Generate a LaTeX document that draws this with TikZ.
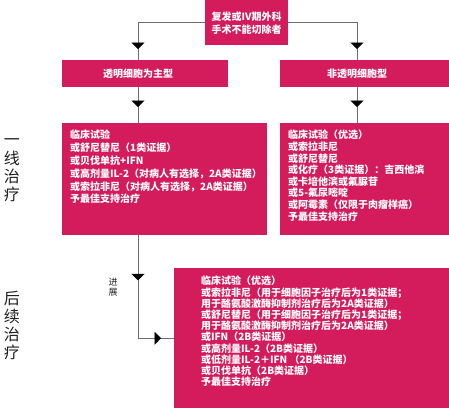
\documentclass[tikz,border=0pt]{standalone}
\usepackage{fontspec}
\setmainfont{Noto Sans CJK SC}
\usetikzlibrary{arrows.meta, calc, positioning, decorations.markings}
\definecolor{rRose}{HTML}{D41B5B}
\definecolor{rLine}{HTML}{6E6E6E}
\definecolor{rInk}{HTML}{1F1F1F}

\tikzset{
  panel/.style={fill=rRose, draw=none, inner sep=0pt, anchor=north west},
  paneltext/.style={text=white, font=\bfseries\fontsize{10}{#1}\selectfont,
                    align=left, inner sep=0pt, anchor=north west},
  sidelabel/.style={text=rInk, font=\fontsize{16}{18.3}\selectfont, align=center, inner sep=0pt},
  flow/.style={draw=rLine, line width=0.9pt},
  tipat/.style={postaction={decorate}, decoration={markings,
      mark=at position #1 with {\arrow{Triangle[width=13pt,length=6.5pt,color=black]}}}},
}

\begin{document}
\begin{tikzpicture}[x=1pt, y=-1pt]
  \useasboundingbox (0,0) rectangle (449,408);

  % top box
  \node[panel, minimum width=83pt, minimum height=45pt, text=white,
        font=\bfseries\fontsize{10}{13}\selectfont, align=center]
        (top) at (205,0) {复发或IV期外科\\手术不能切除者};

  % the two types
  \node[panel, minimum width=166pt, minimum height=27pt] (clear) at (62,60) {};
  \node[panel, minimum width=169pt, minimum height=27pt] (nonclear) at (280,60) {};
  \node[text=white, font=\bfseries\fontsize{10}{12}\selectfont] (cleartext) at (138,73.5) {透明细胞为主型};
  \node[text=white, font=\bfseries\fontsize{10}{12}\selectfont] (noncleartext) at (357,73.5) {非透明细胞型};

  % first line plans
  \node[panel, minimum width=205pt, minimum height=112pt] (clearplan) at (62,123) {};
  \node[panel, minimum width=169pt, minimum height=112pt] (nonclearplan) at (280,123) {};
  \node[paneltext=12.8pt] (clearlist) at (70,130) {临床试验\\
    或舒尼替尼（1类证据）\\
    或贝伐单抗+IFN\\
    或高剂量IL-2（对病人有选择，2A类证据）\\
    或索拉非尼（对病人有选择，2A类证据）\\
    予最佳支持治疗};
  \node[paneltext=11.6pt] (nonclearlist) at (288,130) {临床试验（优选）\\
    或索拉非尼\\
    或舒尼替尼\\
    或化疗（3类证据）：吉西他滨\\
    或卡培他滨或氟脲苷\\
    或5-氟尿嘧啶\\
    或阿霉素（仅限于肉瘤样癌）\\
    予最佳支持治疗};

  % later plan
  \node[panel, minimum width=275pt, minimum height=140pt] (later) at (174,268) {};
  \node[paneltext=11.2pt] (laterlist) at (201,276) {临床试验（优选）\\
    或索拉非尼（用于细胞因子治疗后为1类证据；\\
    用于酪氨酸激酶抑制剂治疗后为2A类证据）\\
    或舒尼替尼（用于细胞因子治疗后为1类证据；\\
    用于酪氨酸激酶抑制剂治疗后为2A类证据）\\
    或IFN（2B类证据）\\
    或高剂量IL-2（2B类证据）\\
    或低剂量IL-2＋IFN （2B类证据）\\
    或贝伐单抗（2B类证据）\\
    予最佳支持治疗};

  % side labels
  \node[sidelabel] (firstline) at (12,170.5) {一\\线\\治\\疗};
  \node[sidelabel] (subsequent) at (12,325.5) {后\\续\\治\\疗};
  \node[text=rInk, font=\fontsize{9}{10}\selectfont, align=center, inner sep=0pt]
        (progress) at (113,287) {进\\展};

  % connectors
  \draw[flow, tipat=-11pt] (top.west) -| (cleartext.center |- clear.north);
  \draw[flow, tipat=-11pt] (top.east) -| (noncleartext.center |- nonclear.north);
  \draw[flow, tipat=-16pt] (cleartext.center |- clear.south) -- (cleartext.center |- clearplan.north);
  \draw[flow, tipat=-16pt] (noncleartext.center |- nonclear.south) -- (noncleartext.center |- nonclearplan.north);
  \draw[flow, postaction={decorate}, decoration={markings,
      mark=at position 45pt with {\arrow{Triangle[width=13pt,length=6.5pt,color=black]}},
      mark=at position -13pt with {\arrow{Triangle[width=13pt,length=6.5pt,color=black]}}}]
    (cleartext.center |- clearplan.south) |- (later.west);
\end{tikzpicture}
\end{document}
